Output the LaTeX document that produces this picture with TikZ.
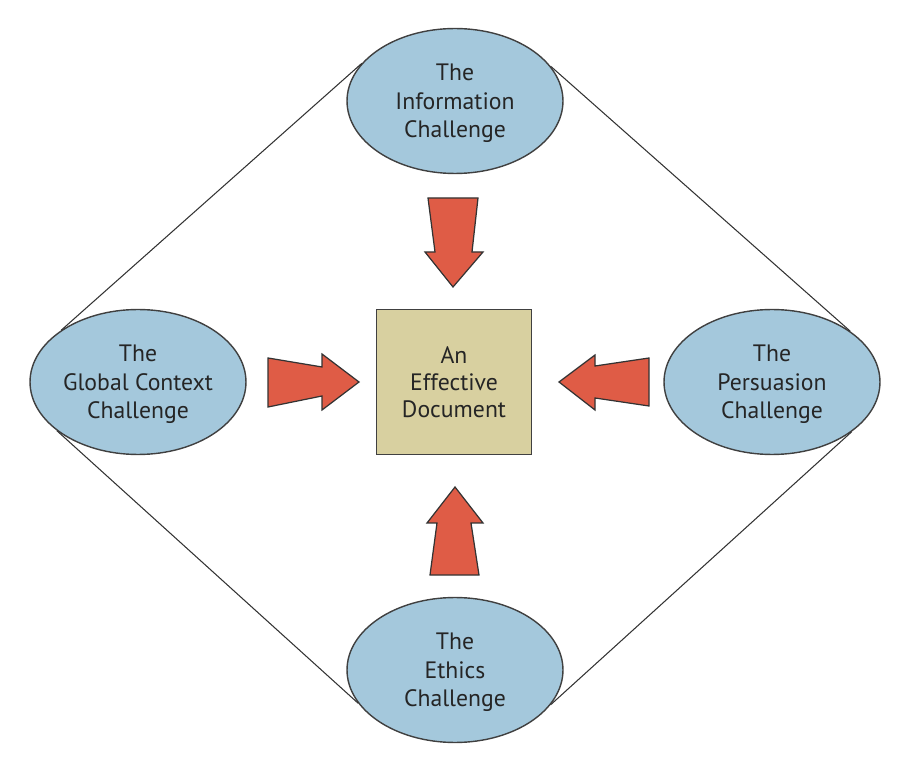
\documentclass[tikz,border=0pt]{standalone}
\usepackage{fontspec}
\setmainfont{PT Sans}
\usetikzlibrary{shapes.geometric}
\definecolor{ellblue}{HTML}{A4C8DC}
\definecolor{docbox}{HTML}{D8D0A0}
\definecolor{arrred}{HTML}{DF5C46}
\definecolor{txtgray}{HTML}{252525}

\begin{document}
\begin{tikzpicture}[x=0.02cm, y=-0.02cm,
  challenge/.style = {draw=black!75, line width=0.8pt, ellipse, fill=ellblue,
    minimum width=4.32cm, minimum height=2.9cm, inner sep=0pt, align=center,
    text depth=0pt, text=txtgray, font=\fontsize{13.5}{16.2}\selectfont},
  doc/.style = {draw=black!75, line width=0.8pt, fill=docbox,
    minimum width=3.1cm, minimum height=2.9cm, inner sep=0pt, align=center,
    text=txtgray, font=\fontsize{13.5}{15.5}\selectfont},
  bigarrow/.style = {draw=black!80, line width=0.7pt, fill=arrred, line join=miter},
  link/.style = {draw=black!80, line width=0.6pt}]
  \useasboundingbox (0,0) rectangle (920,773);

  \node[challenge] (info)    at (455,101) {The\\Information\\Challenge};
  \node[challenge] (global)  at (138,382) {The\\Global Context\\Challenge};
  \node[challenge] (persuade) at (772,382) {The\\Persuasion\\Challenge};
  \node[challenge] (ethics)  at (455,670) {The\\Ethics\\Challenge};
  \node[doc]       (doc)     at (454,382) {An\\Effective\\Document};

  % outer diamond
  \path[link]
  (info.158)     edge (global.146)
  (info.20)      edge (persuade.33)
  (global.211)   edge (ethics.199)
  (persuade.-32) edge (ethics.340);

  % block arrows towards the document
  \draw[bigarrow] (428,198) -- (478,198) -- (472,252) -- (483,252) -- (453,287)
    -- (425,252) -- (435,252) -- cycle;
  \draw[bigarrow] (430,575) -- (479,575) -- (471,523) -- (483,523) -- (455,487)
    -- (427,523) -- (437,523) -- cycle;
  \draw[bigarrow] (268,358) -- (322,367) -- (322,354) -- (359,382) -- (322,410)
    -- (322,396) -- (268,407) -- cycle;
  \draw[bigarrow] (649,358) -- (595,366) -- (595,355) -- (559,382) -- (595,410)
    -- (595,398) -- (649,406) -- cycle;
\end{tikzpicture}
\end{document}
